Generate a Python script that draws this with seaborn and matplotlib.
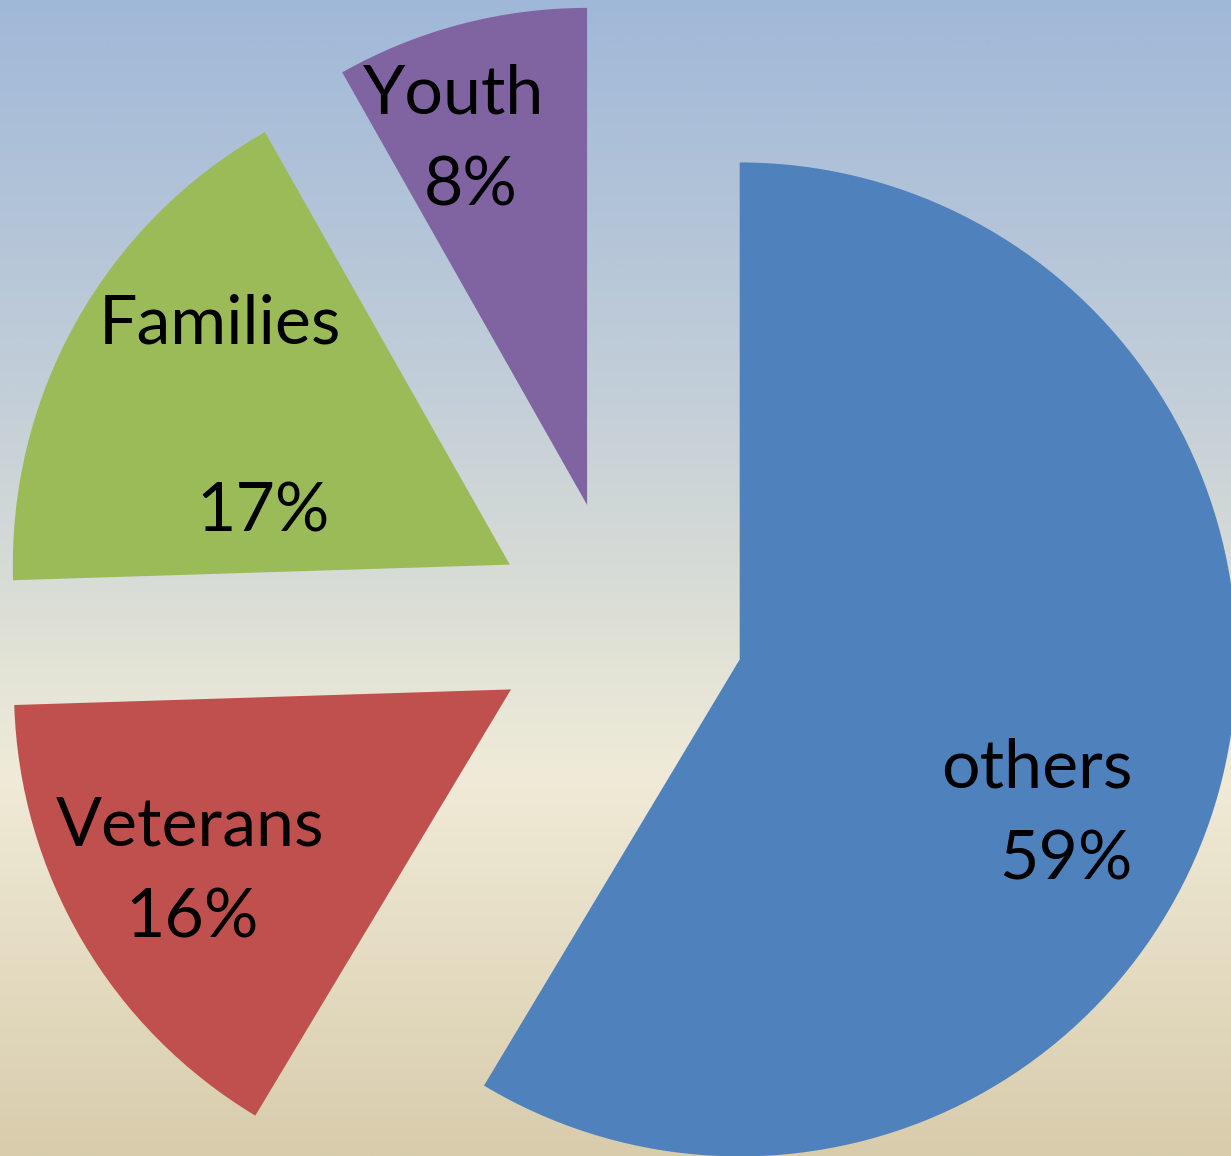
import numpy as np
import matplotlib
matplotlib.use("Agg")
import matplotlib.pyplot as plt
from matplotlib.colors import LinearSegmentedColormap
import seaborn as sns

# Data (shares in percent; labels show them rounded)
categories = ["others", "Veterans", "Families", "Youth"]
shares = [58.6, 15.9, 17.3, 8.2]
pct_labels = [f"{round(v)}%" for v in shares]
slice_colors = ["#4F81BD", "#C0504D", "#9BBB59", "#8064A2"]

sns.set_style("white")
plt.rcParams["font.family"] = ["Lato", "DejaVu Sans"]

W, H, DPI = 1231, 1156, 100
fig = plt.figure(figsize=(W / DPI, H / DPI), dpi=DPI)

# Vertical gradient backdrop
bg = fig.add_axes([0, 0, 1, 1])
bg_cmap = LinearSegmentedColormap.from_list(
    "backdrop",
    [(0.0, "#A0B8D8"), (0.35, "#C4CFD8"), (0.5, "#D8DCD6"),
     (0.67, "#F0EBD8"), (1.0, "#D8CCAC")],
)
grad = np.linspace(0, 1, 512).reshape(-1, 1)
bg.imshow(grad, aspect="auto", cmap=bg_cmap, extent=[0, 1, 0, 1], origin="upper")
bg.axis("off")

# Exploded pie
ax = fig.add_axes([0, 0, 1, 1])
ax.set_facecolor("none")
R = 497            # pixels per unit radius
cx, cy = 619, 626  # pie centre, pixels from the top-left corner
wedges, _ = ax.pie(
    shares, colors=slice_colors, startangle=90, counterclock=False,
    explode=[0.252] * len(shares), radius=1, center=(0, 0),
    wedgeprops=dict(linewidth=0),
)
ax.set_xlim(-cx / R, (W - cx) / R)
ax.set_ylim((cy - H) / R, cy / R)
ax.axis("off")


def px(x, y):
    return (x - cx) / R, (cy - y) / R


# Label placement: (name x, name baseline, pct x, pct baseline, alignment)
label_layout = {
    "others": (1133, 788, 1133, 879, "right"),
    "Veterans": (190, 846, 192, 937, "center"),
    "Families": (220, 344, 263, 532, "center"),
    "Youth": (454, 113, 471, 205, "center"),
}

for name, pct in zip(categories, pct_labels):
    nx, ny, qx, qy, ha = label_layout[name]
    for s, (x, y) in ((name, (nx, ny)), (pct, (qx, qy))):
        ax.text(*px(x, y), s, ha=ha, va="baseline", fontsize=49, color="black")

fig.savefig("out.png", dpi=DPI)
